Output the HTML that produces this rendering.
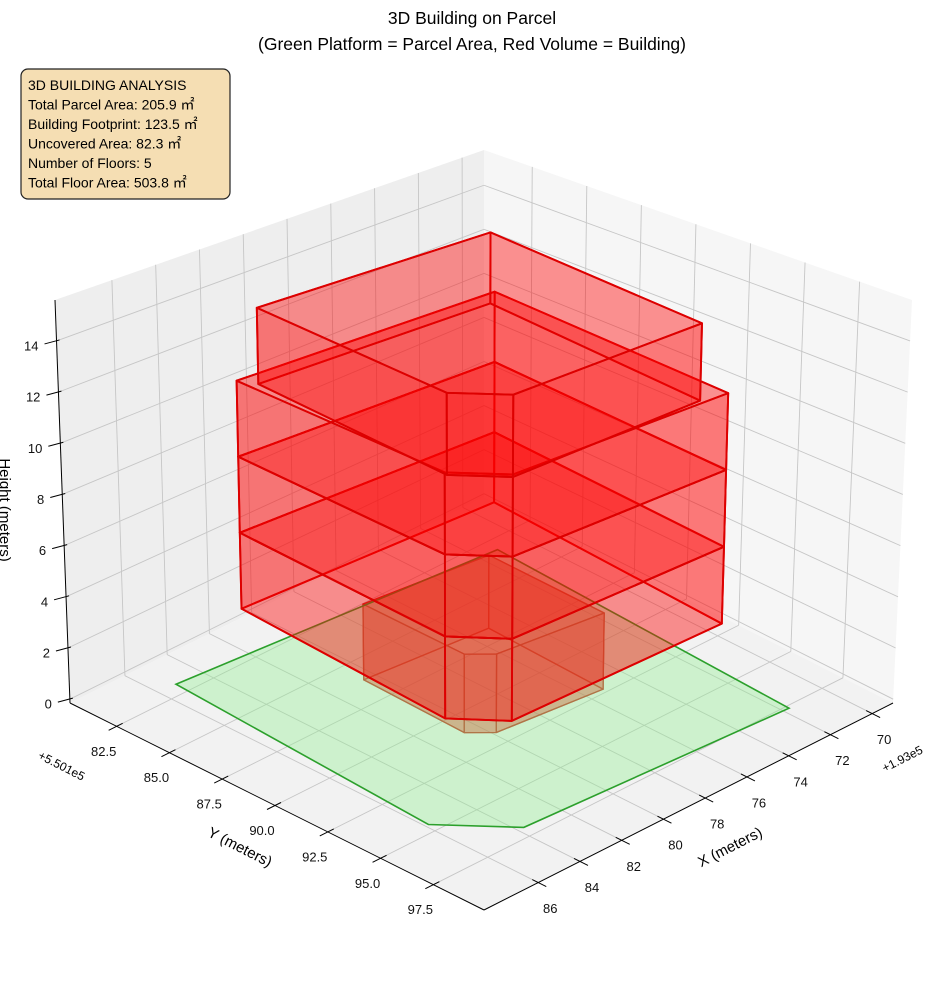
<!DOCTYPE html>
<html><head><meta charset="utf-8"><style>
html,body{margin:0;padding:0;background:#fff;}
svg{display:block;font-family:"Liberation Sans","Noto Sans CJK JP",sans-serif;}
</style></head><body>
<svg id="chart" width="944" height="992" viewBox="0 0 944 992" xmlns="http://www.w3.org/2000/svg">
<g id="panes"></g>
<g id="grid"></g>
<g id="marks"></g>
<g id="axes"></g>
<text x="472" y="24" text-anchor="middle" font-size="17.5">3D Building on Parcel</text>
<text x="472" y="50" text-anchor="middle" font-size="17.5">(Green Platform = Parcel Area, Red Volume = Building)</text>
<g>
<rect x="21" y="69" width="209" height="130" rx="7" fill="#f5deb3" stroke="#222" stroke-width="1.2"/>
<text x="28" y="90" font-size="14">3D BUILDING ANALYSIS</text>
<text x="28" y="109.5" font-size="14">Total Parcel Area: 205.9 ㎡</text>
<text x="28" y="129" font-size="14">Building Footprint: 123.5 ㎡</text>
<text x="28" y="148.5" font-size="14">Uncovered Area: 82.3 ㎡</text>
<text x="28" y="168" font-size="14">Number of Floors: 5</text>
<text x="28" y="187.5" font-size="14">Total Floor Area: 503.8 ㎡</text>
</g>
<text x="730" y="852" text-anchor="middle" font-size="15" transform="rotate(-27 730 847)">X (meters)</text>
<text x="240" y="852" text-anchor="middle" font-size="15" transform="rotate(27 240 847)">Y (meters)</text>
<text x="5" y="515" text-anchor="middle" font-size="15" transform="rotate(90 5 510)">Height (meters)</text>
<text x="62" y="770" text-anchor="middle" font-size="12" transform="rotate(27 62 765)">+5.501e5</text>
<text x="902" y="763" text-anchor="middle" font-size="12" transform="rotate(-27 902 758)">+1.93e5</text>
</svg>
<script>
const xTicks=[70,72,74,76,78,80,82,84,86];
const yTicks=[82.5,85.0,87.5,90.0,92.5,95.0,97.5];
const zTicks=[0,2,4,6,8,10,12,14];
const parcelX=[71.33,85.37,86.05,83.92,71.92];
const parcelY=[83.29,82.09,94.74,97.15,97.83];
const groundX=[75.27,80.7,80.82,80.05,75.45];
const groundY=[86.84,86.33,91.23,91.99,92.48];
const mainX=[72.5,83.8,84.5,83.05,73.2];
const mainY=[84.3,83.7,94.0,95.7,95.8];
const topX=[73.3,83.5,84.6,83.2,74.3];
const topY=[84.9,84.4,94.2,95.85,95.6];
const floorBase=[0,3,6,9,12];
const floorTop=[3,6,9,12,15];
const floorShape=['ground','main','main','main','top'];

const XMIN=69.0,XMAX=88.6,YMIN=80.29,YMAX=99.9,ZMIN=-0.15,ZMAX=15.6;
const C0={B:[484,497],L:[70,703],R:[893,703],F:[484,910]};
const C1={B:[484,150],L:[55,300],R:[912,300],F:[484,451]};
const NS='http://www.w3.org/2000/svg';
function bil(c,u,v,i){return c.B[i]*(1-u)*(1-v)+c.L[i]*u*(1-v)+c.R[i]*(1-u)*v+c.F[i]*u*v;}
function P(X,Y,Z){
  const u=(X-XMIN)/(XMAX-XMIN),v=(Y-YMIN)/(YMAX-YMIN),w=(Z-ZMIN)/(ZMAX-ZMIN);
  const x0=bil(C0,u,v,0),y0=bil(C0,u,v,1),x1=bil(C1,u,v,0),y1=bil(C1,u,v,1);
  return [x0+w*(x1-x0),y0+w*(y1-y0)];
}
function mk(tag,attrs,parent){const e=document.createElementNS(NS,tag);for(const k in attrs)e.setAttribute(k,attrs[k]);parent.appendChild(e);return e;}
function pts(arr){return arr.map(p=>p[0].toFixed(1)+','+p[1].toFixed(1)).join(' ');}

const panes=document.getElementById('panes');
const grid=document.getElementById('grid');
const marks=document.getElementById('marks');
const axes=document.getElementById('axes');

let e;
e=mk('polygon',{points:pts([P(XMIN,YMIN,ZMIN),P(XMAX,YMIN,ZMIN),P(XMAX,YMIN,ZMAX),P(XMIN,YMIN,ZMAX)]),fill:'#eeeeee'},panes);


e=mk('polygon',{points:pts([P(XMIN,YMIN,ZMIN),P(XMIN,YMAX,ZMIN),P(XMIN,YMAX,ZMAX),P(XMIN,YMIN,ZMAX)]),fill:'#f6f6f6'},panes);


e=mk('polygon',{points:pts([P(XMIN,YMIN,ZMIN),P(XMAX,YMIN,ZMIN),P(XMAX,YMAX,ZMIN),P(XMIN,YMAX,ZMIN)]),fill:'#f2f2f2'},panes);



function gl(a,b,name){
  const l=mk('line',{x1:a[0],y1:a[1],x2:b[0],y2:b[1],stroke:'#c6c6c6','stroke-width':0.9},grid);
  
  
}
xTicks.forEach(x=>{gl(P(x,YMIN,ZMIN),P(x,YMAX,ZMIN),'x-grid-floor');gl(P(x,YMIN,ZMIN),P(x,YMIN,ZMAX),'x-grid-wall');});
yTicks.forEach(y=>{gl(P(XMIN,y,ZMIN),P(XMAX,y,ZMIN),'y-grid-floor');gl(P(XMIN,y,ZMIN),P(XMIN,y,ZMAX),'y-grid-wall');});
zTicks.forEach(z=>{gl(P(XMIN,YMIN,z),P(XMAX,YMIN,z),'z-grid-left-wall');gl(P(XMIN,YMIN,z),P(XMIN,YMAX,z),'z-grid-right-wall');});

function prism(xs,ys,z0,z1,fill,capFill,stroke,sw,name){
  const g=mk('g',{},marks);
  
  
  const n=xs.length;
  const bot=xs.map((x,i)=>P(x,ys[i],z0)), top=xs.map((x,i)=>P(x,ys[i],z1));
  const faces=[];
  faces.push({p:bot,d:-1e9,nm:'bottom-face',f:capFill});
  for(let i=0;i<n;i++){const j=(i+1)%n;
    const d=(xs[i]+xs[j])/(XMAX-XMIN)+(ys[i]+ys[j])/(YMAX-YMIN);
    faces.push({p:[bot[i],bot[j],top[j],top[i]],d:d,nm:'side-face',f:fill});}
  faces.push({p:top,d:1e9,nm:'top-face',f:capFill});
  faces.sort((a,b)=>a.d-b.d);
  faces.forEach(f=>{
    const pg=mk('polygon',{points:pts(f.p),fill:f.f,stroke:stroke,'stroke-width':sw,'stroke-linejoin':'round'},g);
    
    
  });
}
const shapes={ground:[groundX,groundY],main:[mainX,mainY],top:[topX,topY]};
prism(groundX,groundY,floorBase[0],floorTop[0],'rgba(235,30,20,0.3)','rgba(235,30,20,0.22)','#c42a1c',1.3,'floor-1');
e=mk('polygon',{points:pts(parcelX.map((x,i)=>P(x,parcelY[i],0))),fill:'rgba(144,238,144,0.38)',stroke:'#2ca02c','stroke-width':1.6},marks);


for(let f=1;f<floorBase.length;f++){
  const s=shapes[floorShape[f]];
  prism(s[0],s[1],floorBase[f],floorTop[f],'rgba(255,0,0,0.3)','rgba(255,0,0,0.17)','#dd0000',1.9,'floor-'+(f+1));
}

function al(a,b,name){
  const l=mk('line',{x1:a[0],y1:a[1],x2:b[0],y2:b[1],stroke:'#000','stroke-width':1},axes);
  
  
}
al(P(XMIN,YMAX,ZMIN),P(XMAX,YMAX,ZMIN),'x-axis-line');
al(P(XMAX,YMIN,ZMIN),P(XMAX,YMAX,ZMIN),'y-axis-line');
al(P(XMAX,YMIN,ZMIN),P(XMAX,YMIN,ZMAX),'z-axis-line');
function lbl(x,y,txt,anchor,name){
  const t=mk('text',{x:x,y:y,'font-size':13,'text-anchor':anchor,'dominant-baseline':'central',fill:'#111'},axes);
  t.textContent=txt;
  
  
}
xTicks.forEach(x=>{const p=P(x,YMAX,ZMIN);
  al([p[0]-6,p[1]-3],[p[0]+8,p[1]+4],'x-tick');
  lbl(p[0]+12,p[1]+26,String(x),'middle','x-tick-label');});
yTicks.forEach(y=>{const p=P(XMAX,y,ZMIN);
  al([p[0]+6,p[1]-3],[p[0]-8,p[1]+4],'y-tick');
  lbl(p[0]-13,p[1]+25,y.toFixed(1),'middle','y-tick-label');});
zTicks.forEach(z=>{const p=P(XMAX,YMIN,z);
  al([p[0]+3,p[1]-1],[p[0]-12,p[1]+3],'z-tick');
  lbl(p[0]-18,p[1]+5,String(z),'end','z-tick-label');});
</script>
</body></html>
